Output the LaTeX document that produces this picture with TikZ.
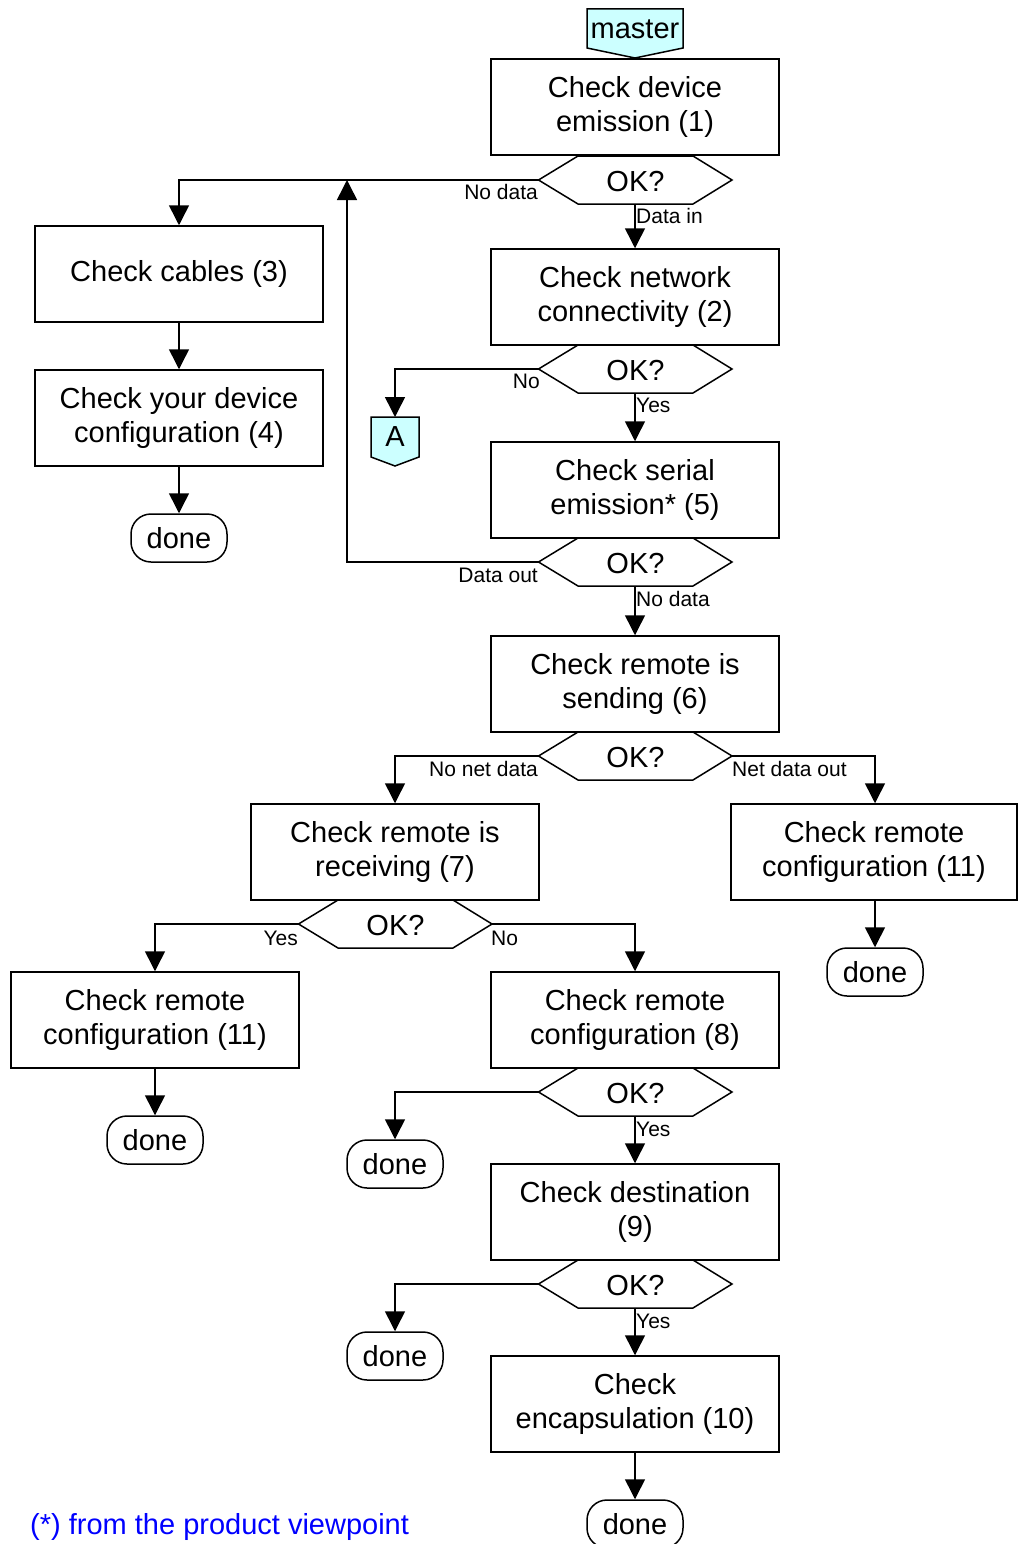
\documentclass[tikz,border=0pt]{standalone}
\usepackage{fontspec}
\setmainfont{Liberation Sans}
\usetikzlibrary{arrows.meta}
\definecolor{tagcyan}{RGB}{204,255,255}
\definecolor{footblue}{RGB}{0,0,255}
\tikzset{
  lw/.style={line width=1.5pt},
  box/.style={lw, draw, fill=white, rectangle, minimum width=288pt, minimum height=96pt, inner sep=0pt, align=center, font=\fontsize{29}{34}\selectfont},
  donebox/.style={lw, draw, fill=white, rectangle, rounded corners=20pt, minimum width=96pt, minimum height=48pt, inner sep=0pt, font=\fontsize{29}{34}\selectfont},
  oktext/.style={inner sep=0pt, font=\fontsize{29}{34}\selectfont},
  lbl/.style={inner sep=1pt, font=\fontsize{21}{24}\selectfont},
  conn/.style={lw, -{Triangle[length=20pt,width=20pt]}},
}
\newcommand{\okhex}[3]{%
  \draw[lw, fill=white] (#2-96.5,#3) -- (#2-57,#3-24) -- (#2+58,#3-24) -- (#2+97,#3) -- (#2+58,#3+24) -- (#2-57,#3+24) -- cycle;
  \node[oktext] (#1) at (#2+0.5,#3+2) {OK?};
  \coordinate (#1w) at (#2-96.5,#3);
  \coordinate (#1e) at (#2+97,#3);
  \coordinate (#1s) at (#2,#3+24);
}
\begin{document}
\begin{tikzpicture}[x=1pt,y=-1pt]
\useasboundingbox (0,0) rectangle (1017,1544);

% master tag
\draw[lw, fill=tagcyan] (587,9) -- (683,9) -- (683,48) -- (635,58) -- (587,48) -- cycle;
\node[oktext] (master) at (635,29) {master};

% main column
\node[box] (b1) at (635,107) {Check device\\emission (1)};
\okhex{h1}{635}{180}
\node[box] (b2) at (635,297) {Check network\\connectivity (2)};
\okhex{h2}{635}{369}
\node[box] (b5) at (635,490) {Check serial\\emission* (5)};
\okhex{h5}{635}{562}
\node[box] (b6) at (635,684) {Check remote is\\sending (6)};
\okhex{h6}{635}{756}

% left column
\node[box] (b3) at (179,274) {Check cables (3)};
\node[box] (b4) at (179,418) {Check your device\\configuration (4)};
\node[donebox] (d4) at (179,538) {done};

% A tag
\draw[lw, fill=tagcyan] (371,417) -- (419,417) -- (419,457) -- (395,466) -- (371,457) -- cycle;
\node[oktext] (tagA) at (395,437) {A};

% lower part
\node[box] (b7) at (395,852) {Check remote is\\receiving (7)};
\okhex{h7}{395}{924}
\node[box, minimum width=286pt] (b11r) at (874,852) {Check remote\\configuration (11)};
\node[donebox] (dr) at (875,972) {done};
\node[box] (b11l) at (155,1020) {Check remote\\configuration (11)};
\node[donebox] (dl) at (155,1140) {done};
\node[box] (b8) at (635,1020) {Check remote\\configuration (8)};
\okhex{h8}{635}{1092}
\node[donebox] (d8) at (395,1164) {done};
\node[box] (b9) at (635,1212) {Check destination\\(9)};
\okhex{h9}{635}{1284}
\node[donebox] (d9) at (395,1356) {done};
\node[box] (b10) at (635,1404) {Check\\encapsulation (10)};
\node[donebox] (d10) at (635,1524) {done};

% connectors
\draw[conn] (h1s) -- (b2.north);
\node[lbl, anchor=west] (l1) at (635,216) {Data in};
\draw[conn] (h1w) -| (b3.north);
\node[lbl, anchor=east] (l2) at (539,192) {No data};
\draw[conn] (b3.south) -- (b4.north);
\draw[conn] (b4.south) -- (d4.north);

\draw[conn] (h2s) -- (b5.north);
\node[lbl, anchor=west] (l3) at (635,405) {Yes};
\draw[conn] (h2w) -| (tagA.north |- 0,417);
\node[lbl, anchor=east] (l4) at (541,381) {No};

\coordinate (up) at (347,180);
\draw[conn] (h5w) -| (up);
\node[lbl, anchor=east] (l5) at (539,575) {Data out};
\draw[conn] (h5s) -- (b6.north);
\node[lbl, anchor=west] (l6) at (635,599) {No data};

\draw[conn] (h6w) -| (b7.north);
\node[lbl, anchor=east] (l7) at (539,769) {No net data};
\draw[conn] (h6e) -| (dr.north |- b11r.north);
\node[lbl, anchor=west] (l8) at (731,769) {Net data out};
\draw[conn] (b11r.south -| dr.north) -- (dr.north);

\draw[conn] (h7w) -| (b11l.north);
\node[lbl, anchor=east] (l9) at (299,938) {Yes};
\draw[conn] (h7e) -| (b8.north);
\node[lbl, anchor=west] (l10) at (490,938) {No};
\draw[conn] (b11l.south) -- (dl.north);

\draw[conn] (h8w) -| (d8.north);
\draw[conn] (h8s) -- (b9.north);
\node[lbl, anchor=west] (l11) at (635,1129) {Yes};
\draw[conn] (h9w) -| (d9.north);
\draw[conn] (h9s) -- (b10.north);
\node[lbl, anchor=west] (l12) at (635,1321) {Yes};
\draw[conn] (b10.south) -- (d10.north);

% footnote
\node[anchor=west, inner sep=0pt, text=footblue, font=\fontsize{29}{34}\selectfont] (foot) at (30,1527) {(*) from the product viewpoint};
\end{tikzpicture}
\end{document}
